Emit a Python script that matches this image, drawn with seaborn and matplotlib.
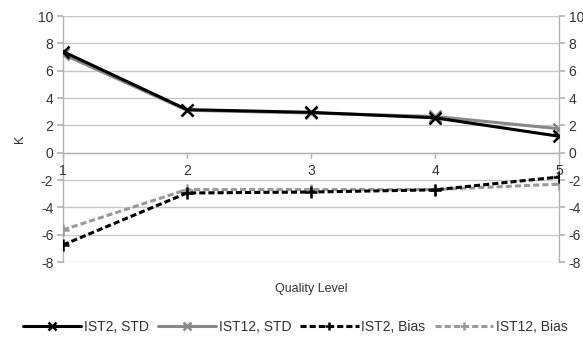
import pandas as pd
import matplotlib
matplotlib.use("Agg")
import matplotlib.pyplot as plt
import seaborn as sns

sns.set_theme(style="white")
plt.rcParams['font.family'] = ['Liberation Sans', 'DejaVu Sans']
plt.rcParams['axes.unicode_minus'] = False

### Data ###

levels = [1, 2, 3, 4, 5]
ist2_std = [7.4, 3.15, 2.95, 2.55, 1.2]
ist12_std = [7.2, 3.1, 2.9, 2.65, 1.75]
ist2_bias = [-6.75, -2.95, -2.88, -2.72, -1.78]
ist12_bias = [-5.65, -2.7, -2.7, -2.7, -2.3]

series = [
    ("IST2, STD", ist2_std, "black", "-", "x"),
    ("IST12, STD", ist12_std, "#888888", "-", "x"),
    ("IST2, Bias", ist2_bias, "black", (0, (2, 1)), "+"),
    ("IST12, Bias", ist12_bias, "#999999", (0, (2, 1)), "+"),
]

### Plot ###

fig = plt.figure(figsize=(5.83, 3.37), dpi=100)
ax = fig.add_axes([63/583, 1 - 262/337, (559-63)/583, (262-16)/337])

txt = "#333333"
grid = "#c8c8c8"

# draw order: gray below black
for name, vals, col, ls, mk in [series[1], series[0], series[3], series[2]]:
    df = pd.DataFrame({"x": levels, "y": vals})
    sns.lineplot(data=df, x="x", y="y", ax=ax, color=col, linewidth=2.2,
                 linestyle=ls, marker=mk, markersize=8, markeredgewidth=1.8,
                 markeredgecolor=col, label=name, zorder=3)

ax.set_xlim(1, 5)
ax.set_ylim(-8, 10)
ax.set_yticks(range(-8, 11, 2))
ax.yaxis.grid(True, color=grid, linewidth=1)
ax.set_axisbelow(True)

for s in ['top', 'bottom']:
    ax.spines[s].set_visible(False)
for s in ['left', 'right']:
    ax.spines[s].set_color("#b3b3b3")
    ax.spines[s].set_linewidth(1)

ax.tick_params(axis='y', left=True, right=True, labelleft=True, labelright=True,
               length=4.5, color="#b3b3b3", labelsize=10, labelcolor=txt, pad=2.5)

# x axis at zero
ax.set_xticks([])
ax.axhline(0, color="#b3b3b3", linewidth=1, zorder=1)
for lv in levels:
    ax.plot([lv, lv], [-0.37, 0.0], color="#b3b3b3", linewidth=1, zorder=1,
            clip_on=False)
    ax.text(lv, -0.8, str(lv), ha="center", va="top", fontsize=10, color=txt)

ax.set_xlabel("Quality Level", fontsize=9, color=txt)
ax.set_ylabel("K", fontsize=9, color=txt)
ax.yaxis.set_label_coords(-0.075, 0.5)
ax.xaxis.set_label_coords(0.5, -0.085)

handles, labels = ax.get_legend_handles_labels()
order = [labels.index(s[0]) for s in series]
ax.legend([handles[i] for i in order], [labels[i] for i in order],
          loc="center", bbox_to_anchor=(232/496, (262-327)/246), ncol=4,
          frameon=False, fontsize=10, handlelength=4.2, handletextpad=0.2,
          columnspacing=0.65, labelcolor=txt, markerscale=0.75)

plt.savefig("out.png", dpi=100)
